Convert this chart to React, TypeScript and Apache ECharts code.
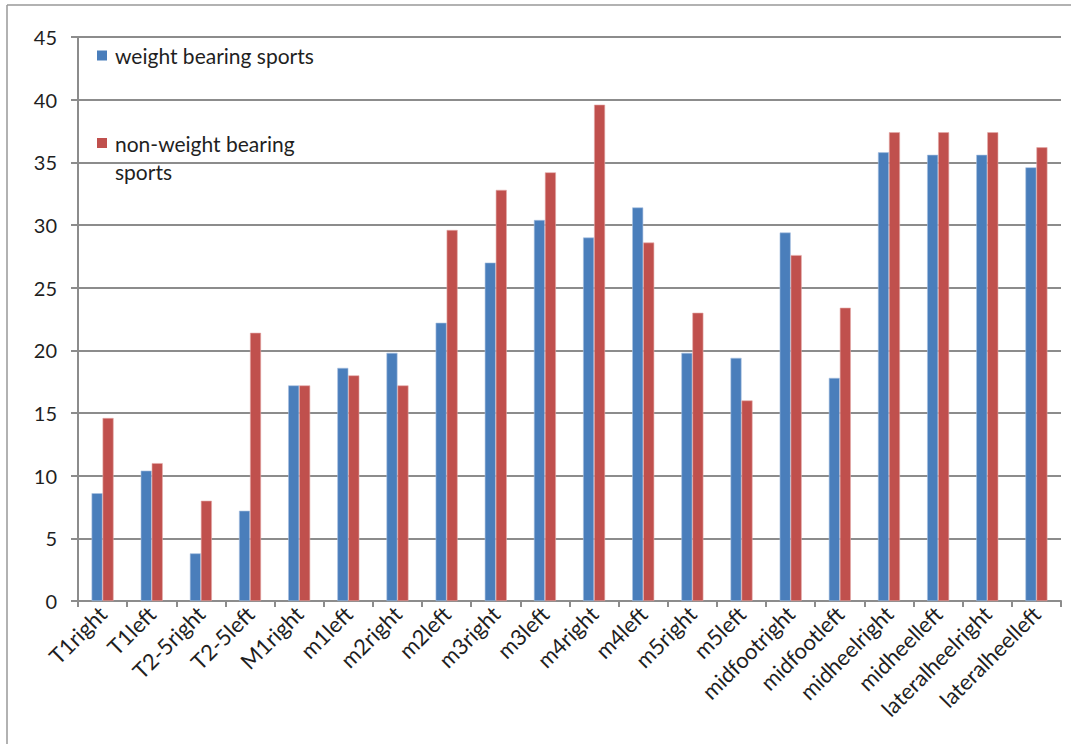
import React, { useEffect, useRef } from "react";
import * as echarts from "echarts";

const categories = [
  "T1right", "T1left", "T2-5right", "T2-5left", "M1right", "m1left", "m2right", "m2left",
  "m3right", "m3left", "m4right", "m4left", "m5right", "m5left", "midfootright", "midfootleft",
  "midheelright", "midheelleft", "lateralheelright", "lateralheelleft",
];
const weightBearing = [8.6, 10.4, 3.8, 7.2, 17.2, 18.6, 19.8, 22.2, 27.0, 30.4, 29.0, 31.4, 19.8, 19.4, 29.4, 17.8, 35.8, 35.6, 35.6, 34.6];
const nonWeightBearing = [14.6, 11.0, 8.0, 21.4, 17.2, 18.0, 17.2, 29.6, 32.8, 34.2, 39.6, 28.6, 23.0, 16.0, 27.6, 23.4, 37.4, 37.4, 37.4, 36.2];
const seriesNames = ["weight bearing sports", "non-weight bearing sports"];

const FONT = "Lato, 'Open Sans', sans-serif";
const GRAY = "#8c8c8c";
const TEXT = "#1f1f1f";

export default function App() {
  const ref = useRef<HTMLDivElement>(null);
  useEffect(() => {
    document.body.style.margin = "0";
    const chart = echarts.init(ref.current!, null, { renderer: "svg" });
    chart.setOption({
      animation: false,
      backgroundColor: "#ffffff",
      grid: { left: 78, right: 10, top: 37, bottom: 143, containLabel: false },
      legend: [
        {
          data: [seriesNames[0]],
          left: 97,
          top: 45,
          padding: 0,
          itemWidth: 10,
          itemHeight: 10,
          icon: "rect",
          itemStyle: { borderWidth: 0 },
          textStyle: { fontFamily: FONT, fontSize: 21, color: TEXT, padding: [0, 0, 0, 3] },
        },
        {
          data: [seriesNames[1]],
          left: 97,
          top: 101,
          padding: 0,
          itemWidth: 10,
          itemHeight: 10,
          icon: "rect",
          itemStyle: { borderWidth: 0 },
          formatter: () => " \nnon-weight bearing\nsports",
          textStyle: { fontFamily: FONT, fontSize: 21, color: TEXT, lineHeight: 28, padding: [0, 0, 0, 3] },
        },
      ],
      graphic: [
        { type: "line", shape: { x1: 7, y1: 5, x2: 1071, y2: 5 }, style: { stroke: "#999", lineWidth: 1.5 } },
        { type: "line", shape: { x1: 7, y1: 5, x2: 7, y2: 744 }, style: { stroke: "#999", lineWidth: 1.5 } },
      ],
      xAxis: {
        type: "category",
        data: categories,
        boundaryGap: true,
        axisLine: { lineStyle: { color: GRAY, width: 2 } },
        axisTick: { show: true, alignWithLabel: false, length: 6, lineStyle: { color: GRAY, width: 2 } },
        axisLabel: {
          interval: 0,
          rotate: 45,
          fontFamily: FONT,
          fontSize: 22,
          color: TEXT,
          margin: 9,
        },
      },
      yAxis: {
        type: "value",
        min: 0,
        max: 45,
        interval: 5,
        axisLine: { show: true, lineStyle: { color: GRAY, width: 2 } },
        axisTick: { show: true, length: 7, lineStyle: { color: GRAY, width: 2 } },
        axisLabel: { fontFamily: FONT, fontSize: 20, color: TEXT, margin: 21 },
        splitLine: { show: true, lineStyle: { color: GRAY, width: 2 } },
      },
      series: [
        {
          name: seriesNames[0],
          type: "bar",
          data: weightBearing,
          itemStyle: { color: "#4a7ebb", borderColor: "#a9c1e0", borderWidth: 0.6 },
          barWidth: 11,
          barGap: "0%",
        },
        {
          name: seriesNames[1],
          type: "bar",
          data: nonWeightBearing,
          itemStyle: { color: "#c0504d", borderColor: "#e4a9a8", borderWidth: 0.6 },
          barWidth: 11,
          barGap: "0%",
        },
      ],
    });
    return () => chart.dispose();
  }, []);
  return <div ref={ref} style={{ position: "absolute", left: 0, top: 0, width: 1071, height: 744 }} />;
}
